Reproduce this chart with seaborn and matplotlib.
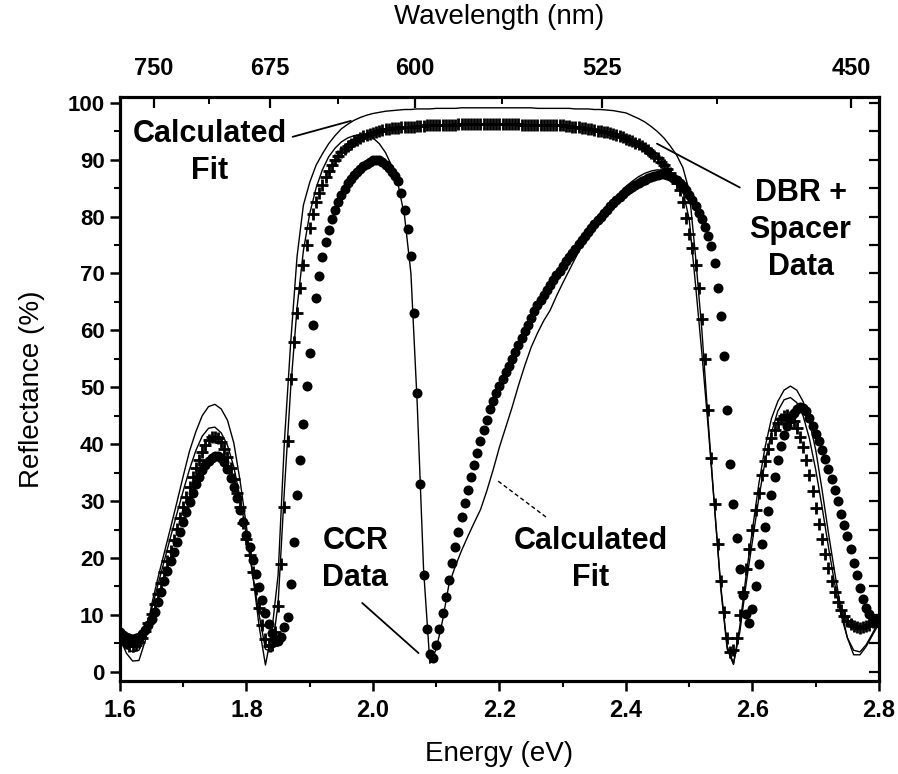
import numpy as np
import matplotlib
matplotlib.use("Agg")
import matplotlib.pyplot as plt
from matplotlib.ticker import FormatStrFormatter, MultipleLocator
import seaborn as sns

# -----------------------------
# Energy grids (eV)
# -----------------------------
energy_data = np.round(np.linspace(1.60, 2.80, 241), 3)   # 0.005 eV steps
energy_fit = np.round(np.linspace(1.60, 2.80, 121), 2)    # 0.01 eV steps

# -----------------------------
# CCR data (filled circles), reflectance %
# -----------------------------
ccr_data = [
    7.0, 6.5, 6.1, 5.9, 5.8, 5.9, 6.2, 6.7, 7.4, 8.3, 9.3, 10.6, 12.3, 14.1, 15.9, 17.7, 19.4, 21.1, 22.8, 24.5,
    26.3, 28.1, 29.9, 31.5, 33.0, 34.3, 35.4, 36.3, 37.1, 37.6, 38.0, 38.0, 37.6, 36.8, 35.6, 34.1, 32.4, 30.5, 28.5, 26.3,
    24.1, 21.9, 19.6, 17.2, 14.9, 12.6, 10.4, 8.4, 6.8, 5.7, 5.5, 6.2, 7.8, 9.6, 15.5, 22.8, 31.0, 37.3, 43.6, 50.2,
    56.0, 61.0, 65.7, 69.6, 72.9, 75.5, 77.7, 79.6, 81.2, 82.6, 83.8, 84.9, 85.8, 86.6, 87.3, 87.9, 88.4, 88.9, 89.3, 89.6,
    89.9, 90.0, 89.9, 89.6, 89.1, 88.6, 87.9, 87.2, 86.3, 84.2, 81.2, 77.8, 73.0, 63.0, 49.0, 33.0, 17.0, 7.5, 3.2, 2.4,
    4.8, 7.6, 10.3, 13.2, 16.2, 19.1, 21.9, 24.6, 27.2, 29.6, 32.0, 34.3, 36.4, 38.4, 40.5, 42.5, 44.3, 46.1, 47.6, 49.0,
    50.3, 51.5, 52.6, 53.8, 55.0, 56.2, 57.4, 58.6, 59.8, 61.0, 62.2, 63.4, 64.4, 65.3, 66.2, 67.1, 68.0, 68.8, 69.7, 70.5,
    71.3, 72.1, 72.8, 73.6, 74.3, 75.1, 75.8, 76.6, 77.3, 78.0, 78.7, 79.4, 80.0, 80.6, 81.2, 81.8, 82.4, 82.9, 83.4, 83.9,
    84.4, 84.8, 85.2, 85.6, 85.9, 86.2, 86.5, 86.8, 87.0, 87.2, 87.3, 87.4, 87.4, 87.3, 87.1, 86.8, 86.4, 85.9, 85.3, 84.6,
    83.8, 82.9, 81.9, 80.7, 79.5, 78.2, 76.6, 74.8, 71.8, 67.5, 62.5, 55.5, 46.0, 36.5, 29.5, 23.5, 18.0, 13.5, 10.2, 8.6,
    11.0, 15.0, 19.0, 22.5, 25.5, 28.2, 31.0, 34.3, 37.3, 39.6, 41.7, 43.2, 44.4, 45.4, 46.1, 46.5, 46.4, 45.8, 44.6, 43.2,
    41.8, 40.6, 39.0, 37.4, 35.7, 33.8, 32.0, 30.0, 27.8, 25.8, 23.8, 21.5, 19.2, 17.0, 14.8, 12.8, 11.2, 10.1, 9.3, 8.8,
    8.6,
]

# -----------------------------
# DBR + spacer data (crosses), reflectance %
# -----------------------------
dbr_data = [
    6.5, 5.6, 5.0, 4.6, 4.5, 4.7, 5.2, 6.0, 7.2, 8.6, 10.2, 11.9, 13.7, 15.6, 17.5, 19.4, 21.3, 23.2, 25.1, 27.0,
    28.9, 30.7, 32.5, 34.2, 35.8, 37.2, 38.6, 39.8, 40.7, 41.2, 41.3, 41.0, 40.3, 39.2, 37.7, 35.9, 33.8, 31.4, 28.9, 26.2,
    23.4, 20.5, 17.5, 14.5, 11.3, 8.3, 5.8, 4.5, 4.8, 7.0, 11.5, 19.0, 29.0, 40.5, 51.5, 58.0, 63.0, 67.5, 71.5, 75.0,
    78.0, 80.5, 82.5, 84.2, 85.6, 86.9, 88.0, 89.0, 89.9, 90.6, 91.3, 91.9, 92.4, 92.8, 93.2, 93.5, 93.8, 94.1, 94.3, 94.5,
    94.7, 94.9, 95.1, 95.2, 95.3, 95.4, 95.5, 95.6, 95.6, 95.7, 95.7, 95.8, 95.8, 95.8, 95.9, 95.9, 95.9, 96.0, 96.0, 96.0,
    96.0, 96.0, 96.1, 96.1, 96.1, 96.1, 96.1, 96.2, 96.2, 96.2, 96.2, 96.2, 96.2, 96.2, 96.2, 96.2, 96.2, 96.2, 96.2, 96.2,
    96.2, 96.2, 96.2, 96.2, 96.2, 96.2, 96.2, 96.1, 96.1, 96.1, 96.1, 96.1, 96.1, 96.1, 96.0, 96.0, 96.0, 96.0, 96.0, 96.0,
    96.0, 95.9, 95.9, 95.8, 95.8, 95.7, 95.6, 95.5, 95.4, 95.3, 95.2, 95.1, 95.0, 94.9, 94.8, 94.6, 94.5, 94.3, 94.1, 93.9,
    93.7, 93.5, 93.3, 93.0, 92.7, 92.4, 92.0, 91.6, 91.2, 90.7, 90.2, 89.6, 89.0, 88.3, 87.6, 86.8, 85.9, 84.6, 82.5, 79.8,
    77.0, 74.5, 71.5, 67.5, 62.0, 55.0, 46.0, 37.5, 29.5, 22.5, 16.0, 10.5, 6.0, 3.5, 3.8, 6.0, 10.0, 14.0, 18.0, 21.5,
    25.0, 28.5, 31.5, 34.5, 37.0, 39.2, 41.0, 42.5, 43.7, 44.5, 45.0, 45.1, 44.8, 44.0, 42.8, 41.3, 39.5, 37.2, 34.6, 31.8,
    28.8, 26.0, 23.3, 20.7, 18.3, 16.0, 14.0, 12.3, 10.9, 9.8, 9.0, 8.4, 8.0, 7.8, 7.7, 7.8, 8.0, 8.3, 8.7, 9.1,
    9.5,
]

# -----------------------------
# Calculated fits (thin lines), reflectance %
# -----------------------------
dbr_fit = [
    6.0, 3.3, 1.9, 2.0, 5.5, 11.8, 16.5, 20.9, 25.3, 29.8,
    34.4, 38.8, 42.2, 45.0, 46.6, 47.0, 46.2, 44.2, 40.2, 33.5,
    25.5, 17.0, 8.0, 1.2, 7.0, 17.0, 40.5, 58.0, 73.0, 82.0,
    86.0, 89.0, 91.0, 92.8, 94.2, 95.4, 96.2, 96.9, 97.4, 97.8,
    98.1, 98.3, 98.5, 98.6, 98.7, 98.8, 98.8, 98.9, 98.9, 98.9,
    99.0, 99.0, 99.0, 99.0, 99.1, 99.1, 99.1, 99.1, 99.1, 99.1,
    99.1, 99.1, 99.1, 99.1, 99.1, 99.1, 99.0, 99.0, 99.0, 99.0,
    99.0, 99.0, 98.9, 98.9, 98.9, 98.8, 98.8, 98.7, 98.6, 98.4,
    98.2, 97.7, 97.2, 96.6, 95.8, 94.9, 93.8, 92.4, 90.8, 88.6,
    84.5, 73.0, 60.0, 44.0, 29.0, 14.5, 4.0, 1.3, 8.0, 17.0,
    25.0, 33.0, 39.5, 44.5, 47.5, 49.5, 50.2, 49.5, 47.5, 44.0,
    39.0, 32.0, 24.5, 17.5, 11.0, 6.0, 3.0, 3.0, 4.5, 6.5,
    8.5,
]

ccr_fit = [
    6.2, 4.2, 3.5, 3.8, 6.5, 11.0, 15.3, 19.5, 23.7, 27.8,
    31.8, 35.6, 38.9, 41.4, 42.8, 43.0, 42.0, 39.8, 36.0, 30.5,
    24.0, 17.0, 10.0, 4.0, 3.5, 12.0, 32.0, 50.0, 64.0, 74.0,
    80.5, 85.0, 88.2, 90.5, 92.0, 93.1, 93.8, 94.2, 94.4, 94.3,
    93.8, 92.8, 91.2, 88.8, 85.5, 80.0, 70.0, 47.0, 18.0, 1.5,
    4.0, 9.0, 15.3, 18.5, 21.3, 23.8, 26.2, 28.5, 31.8, 35.5,
    39.5, 43.0, 46.5, 50.3, 53.8, 57.0, 59.5, 61.7, 63.5, 66.0,
    68.3, 70.5, 72.7, 74.8, 76.8, 78.6, 80.2, 81.7, 83.0, 84.2,
    85.3, 86.2, 87.0, 87.6, 88.0, 88.2, 88.1, 87.6, 86.6, 84.5,
    79.5, 68.0, 56.0, 43.0, 29.0, 15.0, 4.5, 1.5, 7.0, 15.5,
    23.0, 30.5, 37.0, 42.0, 45.8, 47.8, 48.2, 47.3, 45.0, 41.0,
    35.5, 29.0, 22.0, 15.5, 10.0, 6.0, 3.8, 3.5, 4.8, 6.8,
    9.0,
]

# -----------------------------
# Top axis (wavelength, nm)
# -----------------------------
top_wavelengths = [750, 675, 600, 525, 450]
top_minor_wavelengths = [712.5, 637.5, 562.5, 487.5]

# -----------------------------
# Style
# -----------------------------
sns.set_style("ticks")
plt.rcParams["font.family"] = ["Liberation Sans", "DejaVu Sans"]
plt.rcParams["axes.linewidth"] = 2.2
for key in ("text.color", "axes.labelcolor", "xtick.color", "ytick.color", "axes.edgecolor"):
    plt.rcParams[key] = "black"

fig = plt.figure(figsize=(8.98, 7.74), dpi=100)
ax = fig.add_axes([0.1336, 0.1202, 0.8452, 0.7545])

sns.scatterplot(x=energy_data, y=dbr_data, marker="+", s=64, color="black",
                linewidth=2.0, ax=ax, zorder=2, legend=False)
sns.scatterplot(x=energy_data, y=ccr_data, marker="o", s=52, color="black",
                edgecolor="black", linewidth=0, ax=ax, zorder=3, legend=False)
sns.lineplot(x=energy_fit, y=dbr_fit, color="black", lw=1.0, ax=ax, zorder=4)
sns.lineplot(x=energy_fit, y=ccr_fit, color="black", lw=1.0, ax=ax, zorder=4)

ax.set_xlim(1.6, 2.8)
ax.set_ylim(-1.6, 101)

# -----------------------------
# Bottom / left ticks
# -----------------------------
ax.xaxis.set_major_locator(MultipleLocator(0.2))
ax.xaxis.set_minor_locator(MultipleLocator(0.1))
ax.xaxis.set_major_formatter(FormatStrFormatter("%.1f"))
ax.yaxis.set_major_locator(MultipleLocator(10))
ax.yaxis.set_minor_locator(MultipleLocator(5))
ax.tick_params(which="major", direction="out", length=7, width=1.8,
               top=False, right=False)
ax.tick_params(which="minor", direction="out", length=4, width=1.5,
               top=False, right=False)
ax.tick_params(axis="x", labelsize=17, pad=6)
ax.tick_params(axis="y", labelsize=16, pad=4)
for lbl in ax.get_xticklabels() + ax.get_yticklabels():
    lbl.set_fontweight("bold")

ax.set_xlabel("Energy (eV)", fontsize=20, labelpad=14)
ax.set_ylabel("Reflectance (%)", fontsize=20, labelpad=16)

# -----------------------------
# Right ticks (inward)
# -----------------------------
ax_r = ax.twinx()
ax_r.set_ylim(ax.get_ylim())
ax_r.yaxis.set_major_locator(MultipleLocator(5))
ax_r.tick_params(axis="y", direction="in", length=7, width=1.6, labelright=False)

# -----------------------------
# Top wavelength axis (inward ticks)
# -----------------------------
ax_t = ax.twiny()
ax_t.set_xlim(ax.get_xlim())
ax_t.set_xticks([1240.0 / w for w in top_wavelengths])
ax_t.set_xticklabels([str(w) for w in top_wavelengths])
ax_t.set_xticks([1240.0 / w for w in top_minor_wavelengths], minor=True)
ax_t.tick_params(axis="x", which="major", direction="in", length=8, width=1.6,
                 labelsize=17, pad=12)
ax_t.tick_params(axis="x", which="minor", direction="in", length=5, width=1.4)
for lbl in ax_t.get_xticklabels():
    lbl.set_fontweight("bold")
ax_t.set_xlabel("Wavelength (nm)", fontsize=20, labelpad=24)

for a in (ax, ax_r, ax_t):
    for sp in a.spines.values():
        sp.set_linewidth(2.2)
        sp.set_color("black")

# -----------------------------
# Annotations
# -----------------------------
label_kw = dict(ha="center", va="center", fontsize=22, fontweight="bold",
                linespacing=1.3, zorder=6, color="black")
ax.text(1.742, 91.3, "Calculated\nFit", **label_kw)
ax.text(2.676, 77.7, "DBR +\nSpacer\nData", **label_kw)
ax.text(1.972, 19.7, "CCR\nData", **label_kw)
ax.text(2.344, 19.7, "Calculated\nFit", **label_kw)

ax.plot([1.873, 1.965], [94.0, 96.8], color="black", lw=1.3, zorder=5)
ax.plot([2.449, 2.580], [92.8, 85.1], color="black", lw=1.3, zorder=5)
ax.plot([1.983, 2.072], [12.1, 3.3], color="black", lw=1.3, zorder=5)
ax.plot([2.198, 2.276], [33.5, 27.0], color="black", lw=1.0, ls=(0, (3, 2)), zorder=5)

fig.savefig("out.png", dpi=100)
